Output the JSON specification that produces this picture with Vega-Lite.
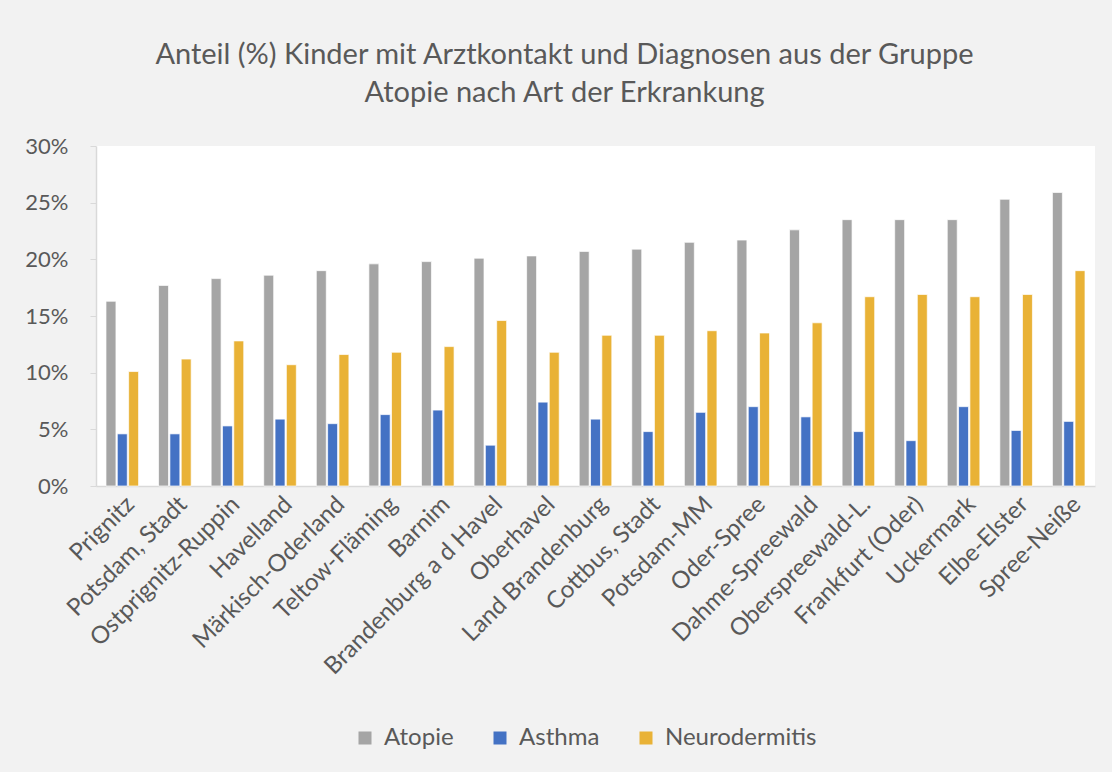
{
  "$schema": "https://vega.github.io/schema/vega-lite/v6.json",
  "autosize": {"type": "none"},
  "width": 999,
  "height": 340,
  "padding": {"left": 96, "top": 146, "right": 17, "bottom": 286},
  "background": "#f2f2f2",
  "title": {
    "text": ["Anteil (%) Kinder mit Arztkontakt und Diagnosen aus der Gruppe", "Atopie nach Art der Erkrankung"],
    "fontSize": 29,
    "font": "Lato",
    "fontWeight": "normal",
    "color": "#595959",
    "anchor": "middle",
    "frame": "group",
    "dx": -31,
    "offset": 27,
    "lineHeight": 38
  },
  "config": {
    "view": {"fill": "white", "stroke": null},
    "font": "Lato"
  },
  "data": {
    "values": [
      {"region": "Prignitz", "typ": "Atopie", "wert": 0.163},
      {"region": "Prignitz", "typ": "Asthma", "wert": 0.046},
      {"region": "Prignitz", "typ": "Neurodermitis", "wert": 0.101},
      {"region": "Potsdam, Stadt", "typ": "Atopie", "wert": 0.177},
      {"region": "Potsdam, Stadt", "typ": "Asthma", "wert": 0.046},
      {"region": "Potsdam, Stadt", "typ": "Neurodermitis", "wert": 0.112},
      {"region": "Ostprignitz-Ruppin", "typ": "Atopie", "wert": 0.183},
      {"region": "Ostprignitz-Ruppin", "typ": "Asthma", "wert": 0.053},
      {"region": "Ostprignitz-Ruppin", "typ": "Neurodermitis", "wert": 0.128},
      {"region": "Havelland", "typ": "Atopie", "wert": 0.186},
      {"region": "Havelland", "typ": "Asthma", "wert": 0.059},
      {"region": "Havelland", "typ": "Neurodermitis", "wert": 0.107},
      {"region": "Märkisch-Oderland", "typ": "Atopie", "wert": 0.190},
      {"region": "Märkisch-Oderland", "typ": "Asthma", "wert": 0.055},
      {"region": "Märkisch-Oderland", "typ": "Neurodermitis", "wert": 0.116},
      {"region": "Teltow-Fläming", "typ": "Atopie", "wert": 0.196},
      {"region": "Teltow-Fläming", "typ": "Asthma", "wert": 0.063},
      {"region": "Teltow-Fläming", "typ": "Neurodermitis", "wert": 0.118},
      {"region": "Barnim", "typ": "Atopie", "wert": 0.198},
      {"region": "Barnim", "typ": "Asthma", "wert": 0.067},
      {"region": "Barnim", "typ": "Neurodermitis", "wert": 0.123},
      {"region": "Brandenburg a d  Havel", "typ": "Atopie", "wert": 0.201},
      {"region": "Brandenburg a d  Havel", "typ": "Asthma", "wert": 0.036},
      {"region": "Brandenburg a d  Havel", "typ": "Neurodermitis", "wert": 0.146},
      {"region": "Oberhavel", "typ": "Atopie", "wert": 0.203},
      {"region": "Oberhavel", "typ": "Asthma", "wert": 0.074},
      {"region": "Oberhavel", "typ": "Neurodermitis", "wert": 0.118},
      {"region": "Land Brandenburg", "typ": "Atopie", "wert": 0.207},
      {"region": "Land Brandenburg", "typ": "Asthma", "wert": 0.059},
      {"region": "Land Brandenburg", "typ": "Neurodermitis", "wert": 0.133},
      {"region": "Cottbus, Stadt", "typ": "Atopie", "wert": 0.209},
      {"region": "Cottbus, Stadt", "typ": "Asthma", "wert": 0.048},
      {"region": "Cottbus, Stadt", "typ": "Neurodermitis", "wert": 0.133},
      {"region": "Potsdam-MM", "typ": "Atopie", "wert": 0.215},
      {"region": "Potsdam-MM", "typ": "Asthma", "wert": 0.065},
      {"region": "Potsdam-MM", "typ": "Neurodermitis", "wert": 0.137},
      {"region": "Oder-Spree", "typ": "Atopie", "wert": 0.217},
      {"region": "Oder-Spree", "typ": "Asthma", "wert": 0.070},
      {"region": "Oder-Spree", "typ": "Neurodermitis", "wert": 0.135},
      {"region": "Dahme-Spreewald", "typ": "Atopie", "wert": 0.226},
      {"region": "Dahme-Spreewald", "typ": "Asthma", "wert": 0.061},
      {"region": "Dahme-Spreewald", "typ": "Neurodermitis", "wert": 0.144},
      {"region": "Oberspreewald-L.", "typ": "Atopie", "wert": 0.235},
      {"region": "Oberspreewald-L.", "typ": "Asthma", "wert": 0.048},
      {"region": "Oberspreewald-L.", "typ": "Neurodermitis", "wert": 0.167},
      {"region": "Frankfurt (Oder)", "typ": "Atopie", "wert": 0.235},
      {"region": "Frankfurt (Oder)", "typ": "Asthma", "wert": 0.040},
      {"region": "Frankfurt (Oder)", "typ": "Neurodermitis", "wert": 0.169},
      {"region": "Uckermark", "typ": "Atopie", "wert": 0.235},
      {"region": "Uckermark", "typ": "Asthma", "wert": 0.070},
      {"region": "Uckermark", "typ": "Neurodermitis", "wert": 0.167},
      {"region": "Elbe-Elster", "typ": "Atopie", "wert": 0.253},
      {"region": "Elbe-Elster", "typ": "Asthma", "wert": 0.049},
      {"region": "Elbe-Elster", "typ": "Neurodermitis", "wert": 0.169},
      {"region": "Spree-Neiße", "typ": "Atopie", "wert": 0.259},
      {"region": "Spree-Neiße", "typ": "Asthma", "wert": 0.057},
      {"region": "Spree-Neiße", "typ": "Neurodermitis", "wert": 0.190}
    ]
  },
  "mark": {"type": "bar", "stroke": "white", "strokeWidth": 0.7},
  "encoding": {
    "x": {
      "field": "region",
      "type": "nominal",
      "sort": null,
      "scale": {"paddingInner": 0.38, "paddingOuter": 0.19},
      "axis": {
        "title": null,
        "labelAngle": -45,
        "labelFontSize": 24,
        "labelColor": "#595959",
        "labelFont": "Lato",
        "ticks": false,
        "domainColor": "#d9d9d9",
        "domainWidth": 1.5,
        "labelPadding": 6,
        "labelLimit": 400
      }
    },
    "xOffset": {
      "field": "typ",
      "type": "nominal",
      "sort": ["Atopie", "Asthma", "Neurodermitis"],
      "scale": {"paddingInner": 0.12}
    },
    "y": {
      "field": "wert",
      "type": "quantitative",
      "scale": {"domain": [0, 0.3]},
      "axis": {
        "title": null,
        "format": ".0%",
        "values": [0, 0.05, 0.1, 0.15, 0.2, 0.25, 0.3],
        "grid": false,
        "labelFontSize": 22,
        "labelColor": "#595959",
        "domainColor": "#d9d9d9",
        "domainWidth": 1.5,
        "tickColor": "#d9d9d9",
        "tickSize": 6,
        "labelPadding": 22
      }
    },
    "color": {
      "field": "typ",
      "type": "nominal",
      "scale": {
        "domain": ["Atopie", "Asthma", "Neurodermitis"],
        "range": ["#a5a5a5", "#4472c4", "#e9b236"]
      },
      "legend": {
        "title": null,
        "orient": "none",
        "direction": "horizontal",
        "legendX": 257,
        "legendY": 580,
        "symbolType": "square",
        "symbolSize": 169,
        "symbolStrokeWidth": 0,
        "labelFontSize": 24,
        "labelColor": "#595959",
        "columnPadding": 34,
        "labelOffset": 7
      }
    }
  }
}
